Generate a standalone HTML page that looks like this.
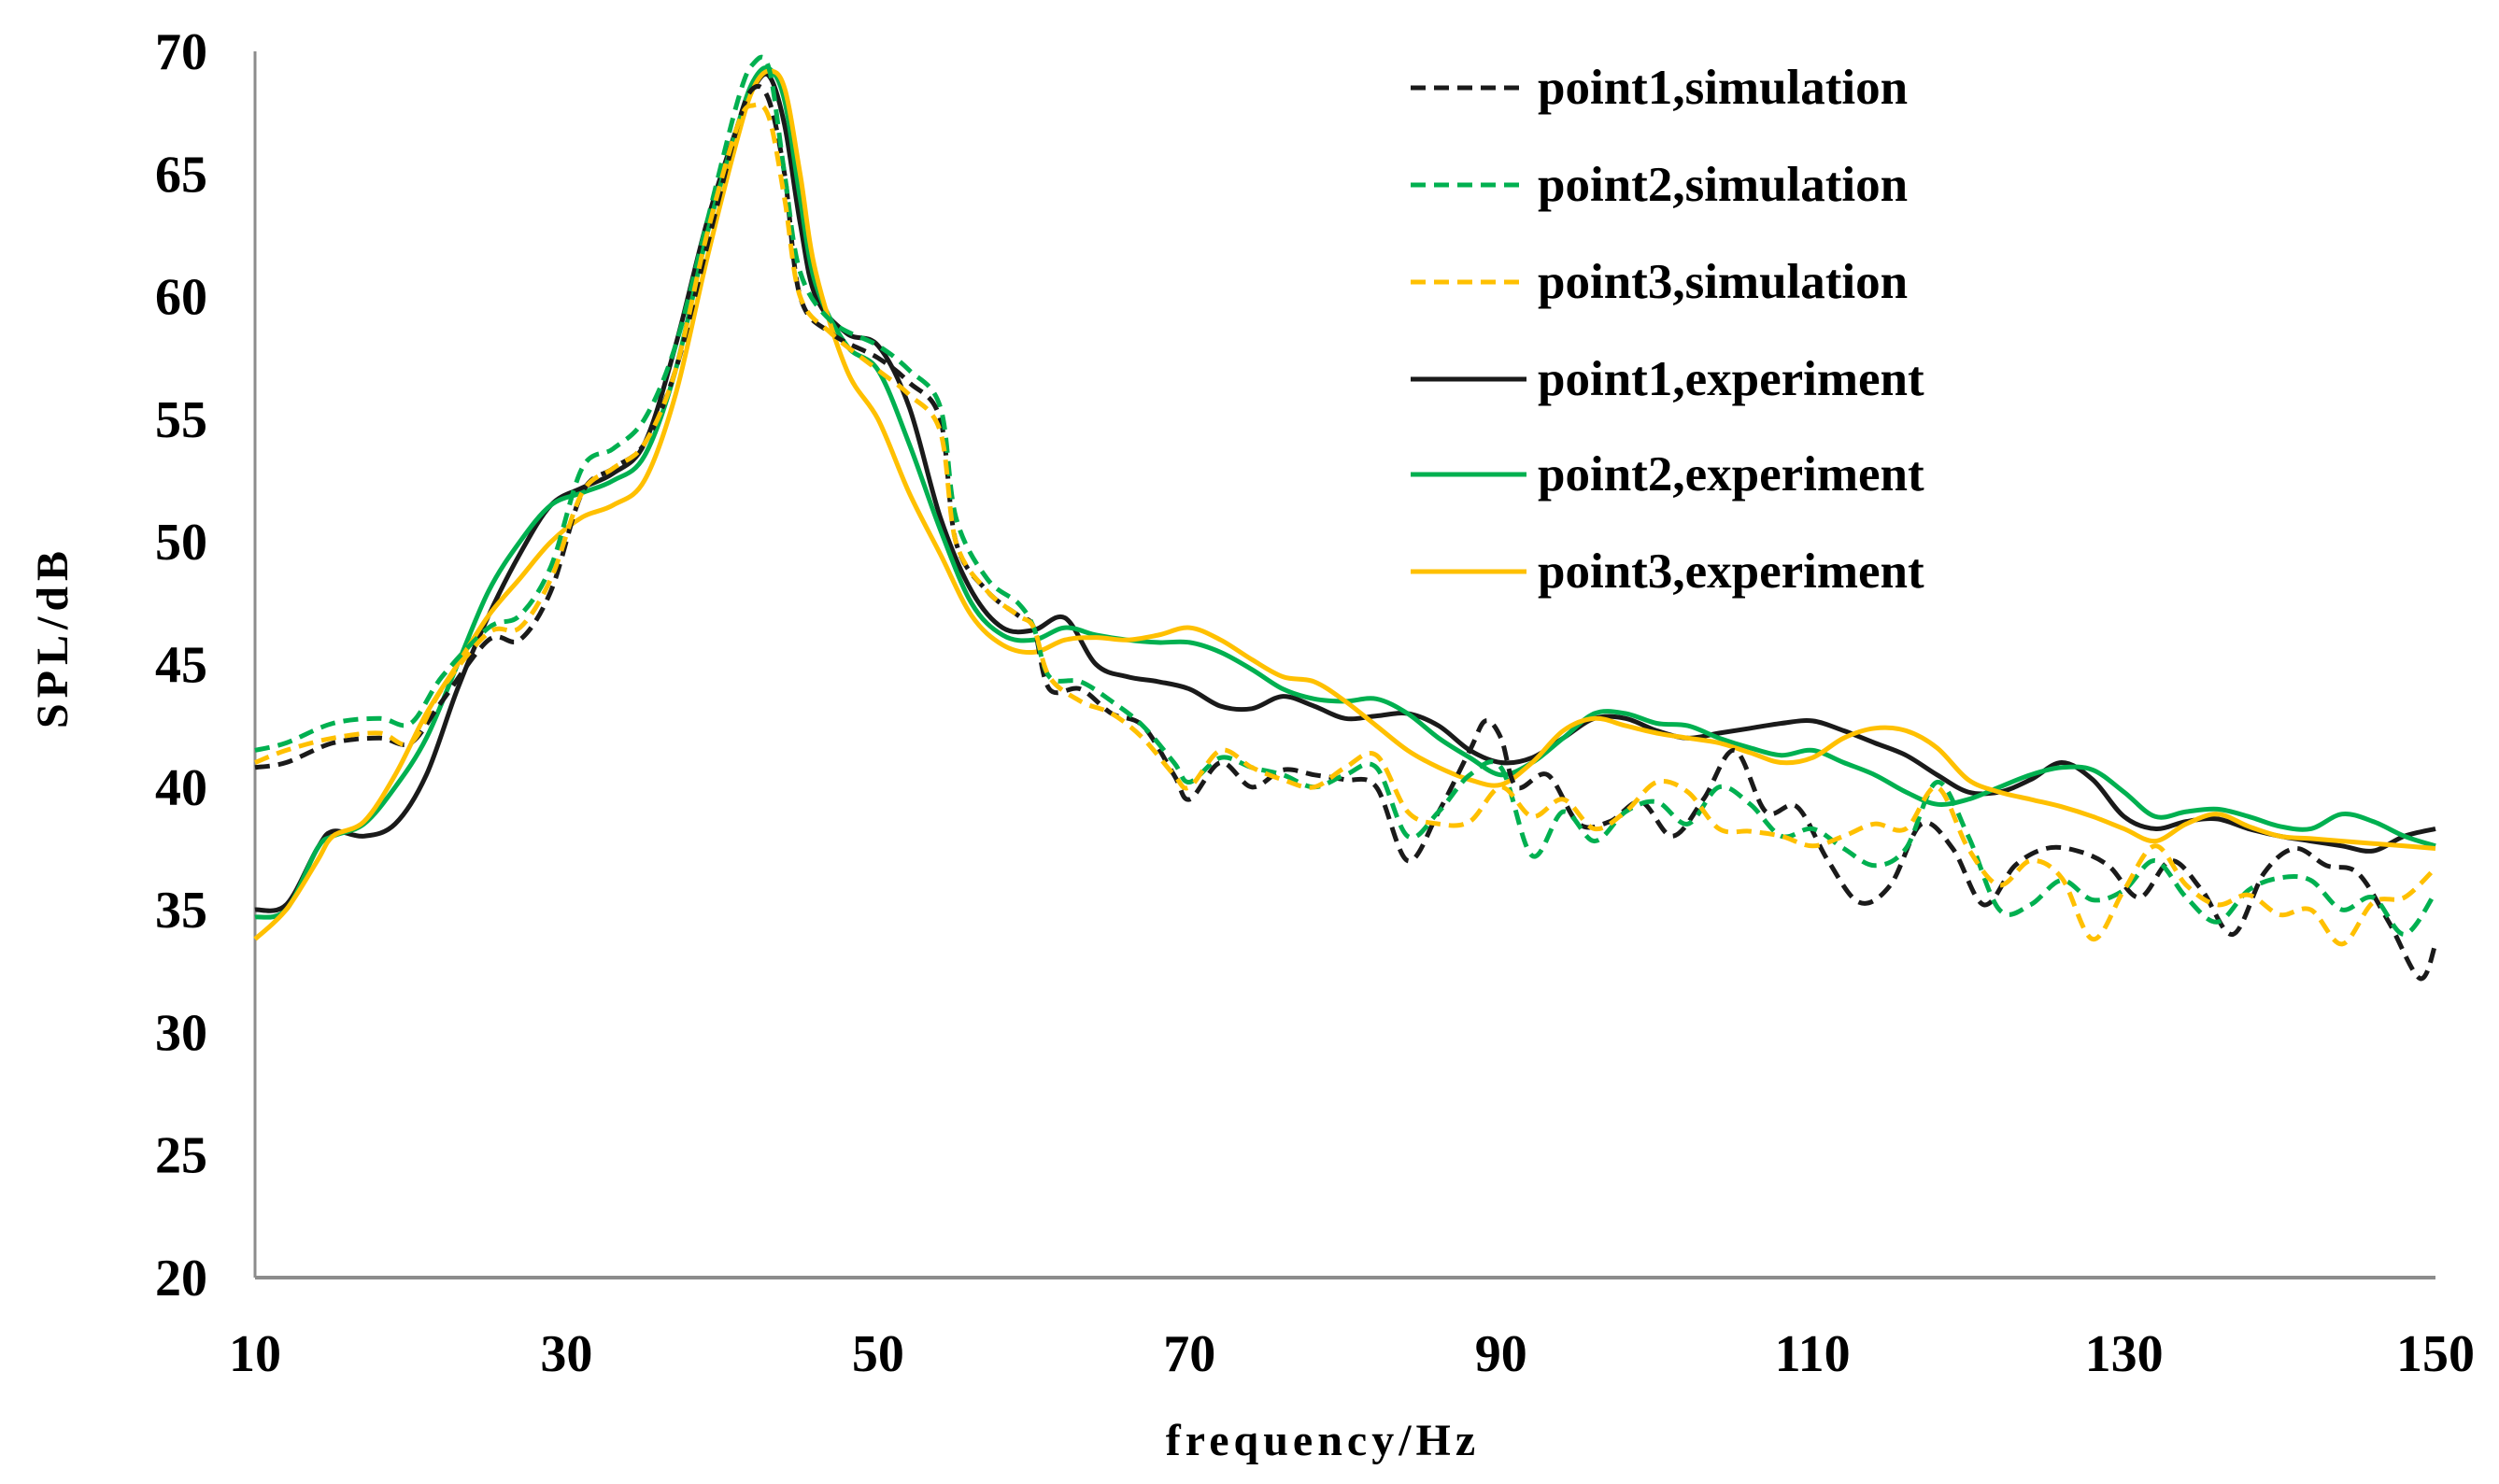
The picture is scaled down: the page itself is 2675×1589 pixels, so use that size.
<!DOCTYPE html>
<html><head><meta charset="utf-8"><style>
html,body{margin:0;padding:0;background:#fff;}
svg{display:block;font-family:"Liberation Serif",serif;font-weight:bold;}
</style></head><body>
<svg id="chart" width="2675" height="1589" viewBox="0 0 2675 1589" xmlns="http://www.w3.org/2000/svg">
<g id="axes"></g>
<g id="series"></g>
<g id="legend"></g>
</svg>
<script>
const yTicks=[20,25,30,35,40,45,50,55,60,65,70];
const xTicks=[10,30,50,70,90,110,130,150];
const p1SimF=[10,12,15,18,20,22,25,27,29,31,33,35,37,39,41,42,43,44,45,47,50,52,54,55,57,59,60,61,63,65,67,69,70,72,74,76,78,80,82,84,86,88,89,90,91,93,95,97,99,101,103,105,107,109,111,113,115,117,119,121,123,125,127,129,131,133,135,137,139,141,143,145,147,149,150];
const p1SimV=[40.8,41,41.8,42,41.8,43.5,46,46,48,52,53,54,57,62,67,68.5,68,65,60,58.5,57.5,56.5,55,50,48,47,46.5,44,44,43,42.5,40.5,39.5,41,40,40.7,40.5,40.3,40,37,39,41.5,42.7,42,40,40.5,38.5,38.6,39.4,38,39.5,41.5,39,39.2,37,35.3,36,38.5,37.5,35.2,36.8,37.5,37.4,36.8,35.5,37,35.8,34,36.5,37.5,36.8,36.5,34.5,32.2,33.6];
const p2SimF=[10,12,15,18,20,22,25,27,29,31,33,35,37,39,41,42,43,44,45,47,50,52,54,55,57,59,60,61,63,65,67,69,70,72,74,76,78,80,82,84,86,88,90,92,94,96,98,100,102,104,106,108,110,112,114,116,118,120,122,124,126,128,130,132,134,136,138,140,142,144,146,148,150];
const p2SimV=[41.5,41.8,42.6,42.8,42.6,44.5,46.5,47,49,53,53.8,55,58,63,68,69.5,69.3,65,61,59,58,57,55.5,51,48.5,47.5,46.5,44.5,44.3,43.5,42.5,41,40.2,41.2,40.8,40.5,40,40.5,40.8,38,39,40.5,40.8,37.2,39,37.8,39,39.4,38.5,40,39.3,38,38.3,37.5,36.8,37.5,40.2,38,35,35.2,36.2,35.4,35.8,37,35.5,34.5,35.8,36.3,36.2,35,35.5,34,35.7];
const p3SimF=p2SimF;
const p3SimV=[41,41.5,42,42.2,41.8,44,46.3,46.5,48.5,52,53,54,57,62.5,67,67.8,67.3,64,60,58.5,57,56,54.5,50,48,47,46.5,44.5,43.5,43,42,40.5,40,41.5,40.8,40.3,40,40.8,41.3,39,38.5,38.6,40,38.8,39.5,38.3,39,40.2,39.8,38.3,38.2,38,37.6,38,38.5,38.3,40,37.5,36,37,36.3,33.8,35.8,37.6,36,35.2,35.6,34.8,35,33.6,35.3,35.5,36.7];
const expF=[10,12,14,15,17,19,21,23,25,27,29,31,33,35,37,39,41,42,43,44,45,46,48,50,52,54,56,58,60,62,64,66,68,70,72,74,76,78,80,82,84,86,88,90,92,94,96,98,100,102,104,106,108,110,112,114,116,118,120,122,124,126,128,130,132,134,136,138,140,142,144,146,148,150];
const p1ExpV=[35,35.2,37.5,38.2,38,38.5,40.5,44,47,49.5,51.5,52.2,52.8,54,58,63,67,68.5,69,67,63,60,58.5,58,55.5,51,48,46.5,46.4,46.9,45,44.5,44.3,44,43.3,43.2,43.7,43.3,42.8,42.9,43,42.5,41.5,41,41.2,42,42.8,42.8,42.3,42,42.2,42.4,42.6,42.7,42.3,41.8,41.3,40.5,39.8,39.8,40.3,41,40.3,38.8,38.3,38.6,38.7,38.3,38,37.8,37.6,37.4,38,38.3];
const p2ExpV=[34.7,35,37.5,38,38.5,40,42,45,48,50,51.5,52,52.5,53.5,57,62.5,67,68.8,69.3,68,64,60.5,58,57,54,50.5,47.5,46.2,46,46.5,46.2,46,45.9,45.9,45.5,44.8,44,43.6,43.5,43.6,43,42,41.2,40.5,41,42,43,43,42.6,42.5,42,41.6,41.3,41.5,41,40.5,39.8,39.3,39.5,40,40.5,40.8,40.7,39.8,38.8,39,39.1,38.8,38.4,38.3,38.9,38.6,38,37.6];
const p3ExpV=[33.8,35,37,38,38.6,40.5,43,45,47,48.5,50,51,51.5,52.5,56,61.5,66.5,68.5,69.2,68.5,65,61,57,55,52,49.5,47,45.8,45.5,46,46.1,46,46.2,46.5,46,45.2,44.5,44.3,43.5,42.5,41.5,40.8,40.3,40.1,41,42.3,42.8,42.5,42.2,42,41.8,41.4,41,41.2,42,42.4,42.3,41.6,40.3,39.8,39.5,39.2,38.8,38.3,37.8,38.5,38.9,38.4,38,37.9,37.8,37.7,37.6,37.5];
const legendLabels=["point1,simulation","point2,simulation","point3,simulation","point1,experiment","point2,experiment","point3,experiment"];

const NS="http://www.w3.org/2000/svg";
const L=273,R=2607,T=55,B=1368;
const xMin=10,xMax=150,yMin=20,yMax=70;
const sx=v=>L+(v-xMin)/(xMax-xMin)*(R-L);
const sy=v=>B-(v-yMin)/(yMax-yMin)*(B-T);
function mk(tag,attrs,parent){const e=document.createElementNS(NS,tag);for(const k in attrs)e.setAttribute(k,attrs[k]);parent.appendChild(e);return e;}
const axes=document.getElementById('axes');
let a=mk('line',{x1:L,y1:T,x2:L,y2:B,stroke:'#8c8c8c','stroke-width':3},axes);


a=mk('line',{x1:L,y1:B,x2:R,y2:B,stroke:'#8c8c8c','stroke-width':4},axes);


yTicks.forEach(v=>{const t=mk('text',{x:222,y:sy(v)+19,'text-anchor':'end','font-size':56},axes);t.textContent=v;

});
xTicks.forEach(v=>{const t=mk('text',{x:sx(v),y:1468,'text-anchor':'middle','font-size':56},axes);t.textContent=v;

});
let tt=mk('text',{x:1416,y:1558,'text-anchor':'middle','font-size':48,'letter-spacing':5},axes);tt.textContent='frequency/Hz';


tt=mk('text',{x:0,y:0,'text-anchor':'middle','font-size':48,'letter-spacing':6,transform:'translate(72,682) rotate(-90)'},axes);tt.textContent='SPL/dB';



function pathD(F,V){const p=F.map((f,i)=>[sx(f),sy(V[i])]);let d='M'+p[0][0].toFixed(1)+','+p[0][1].toFixed(1);
for(let i=0;i<p.length-1;i++){const p0=p[i-1]||p[i],p1=p[i],p2=p[i+1],p3=p[i+2]||p2;
const c1=[p1[0]+(p2[0]-p0[0])/6,p1[1]+(p2[1]-p0[1])/6],c2=[p2[0]-(p3[0]-p1[0])/6,p2[1]-(p3[1]-p1[1])/6];
d+='C'+c1[0].toFixed(1)+','+c1[1].toFixed(1)+' '+c2[0].toFixed(1)+','+c2[1].toFixed(1)+' '+p2[0].toFixed(1)+','+p2[1].toFixed(1);}return d;}
const BLK='#1a1a1a',GRN='#00b050',ORG='#ffc000';
const series=[
 {F:p1SimF,V:p1SimV,c:BLK,dash:true,n:'point1-simulation-line'},
 {F:p2SimF,V:p2SimV,c:GRN,dash:true,n:'point2-simulation-line'},
 {F:p3SimF,V:p3SimV,c:ORG,dash:true,n:'point3-simulation-line'},
 {F:expF,V:p1ExpV,c:BLK,dash:false,n:'point1-experiment-line'},
 {F:expF,V:p2ExpV,c:GRN,dash:false,n:'point2-experiment-line'},
 {F:expF,V:p3ExpV,c:ORG,dash:false,n:'point3-experiment-line'}];
const sg=document.getElementById('series');
const order=[3,4,5,0,1,2];
order.forEach(i=>{const s=series[i];const p=mk('path',{d:pathD(s.F,s.V),fill:'none',stroke:s.c,'stroke-width':5,'stroke-linejoin':'round'},sg);
if(s.dash)p.setAttribute('stroke-dasharray','16 9');

});
const lg=document.getElementById('legend');
const rowsY=[94,198,302,406,508,612];
series.forEach((s,i)=>{const g=mk('g',{},lg);


const l=mk('line',{x1:1510,y1:rowsY[i],x2:1634,y2:rowsY[i],stroke:s.c,'stroke-width':5},g);
if(s.dash)l.setAttribute('stroke-dasharray','16 9');
const t=mk('text',{x:1646,y:rowsY[i]+17,'font-size':53},g);t.textContent=legendLabels[i];});
</script>
</body></html>
